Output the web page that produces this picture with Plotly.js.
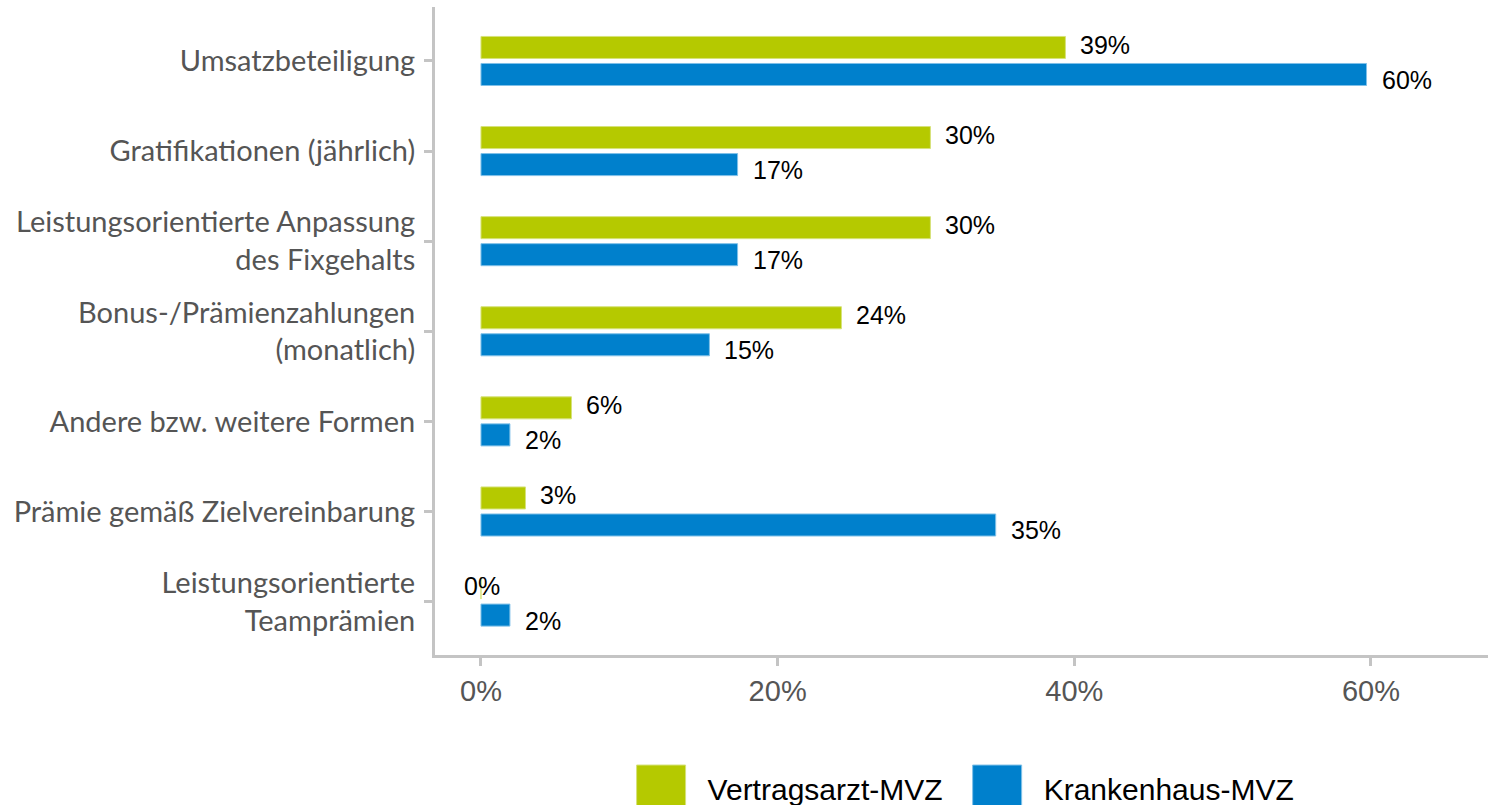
<!DOCTYPE html>
<html>
<head>
<meta charset="utf-8">
<script src="https://cdn.plot.ly/plotly-3.0.1.min.js"></script>
<style>
  html, body { margin: 0; padding: 0; background: #ffffff; }
  #chart { width: 1492px; height: 805px; }
</style>
</head>
<body>
<div id="chart"></div>
<script>
// ---- data ----
const categories = [
  'Umsatzbeteiligung',
  'Gratifikationen (jährlich)',
  'Leistungsorientierte Anpassung<br>des Fixgehalts',
  'Bonus-/Prämienzahlungen<br>(monatlich)',
  'Andere bzw. weitere Formen',
  'Prämie gemäß Zielvereinbarung',
  'Leistungsorientierte<br>Teamprämien'
];
const seriesNames = ['Vertragsarzt-MVZ', 'Krankenhaus-MVZ'];
const vertragsarzt = [39.4, 30.3, 30.3, 24.3, 6.1, 3.0, 0];
const krankenhaus = [59.7, 17.3, 17.3, 15.4, 1.95, 34.7, 1.95];
const xTickVals = [0, 20, 40, 60];
const xTickText = ['0%', '20%', '40%', '60%'];

// ---- styles ----
const GREEN = '#b5c900';
const BLUE = '#0080cc';
const AXIS = '#c4c4c4';
const labelFont = "'Liberation Sans', Arial, sans-serif";

const traces = [
  {
    type: 'bar', orientation: 'h', name: seriesNames[0],
    y: categories, x: vertragsarzt,
    marker: { color: GREEN, line: { color: '#d6e27a', width: 1 } },
    hoverinfo: 'none'
  },
  {
    type: 'bar', orientation: 'h', name: seriesNames[1],
    y: categories, x: krankenhaus,
    marker: { color: BLUE, line: { color: '#7fc0e8', width: 1 } },
    hoverinfo: 'none'
  }
];

const annotations = [];
[vertragsarzt, krankenhaus].forEach((vals, s) => {
  vals.forEach((v, i) => {
    annotations.push({
      x: v, y: categories[i], xref: 'x', yref: 'y',
      text: Math.round(v) + '%',
      showarrow: false,
      xanchor: v === 0 ? 'center' : 'left',
      xshift: v === 0 ? 1 : 13,
      yshift: s === 0 ? 16 : -19,
      font: { family: labelFont, size: 25, color: '#000000' }
    });
  });
});

const layout = {
  width: 1492, height: 805,
  margin: { l: 435, r: 4, t: 7, b: 150, autoexpand: false },
  paper_bgcolor: '#ffffff', plot_bgcolor: '#ffffff',
  barmode: 'group', bargap: 0.4, bargroupgap: 0.185,
  showlegend: true,
  legend: {
    orientation: 'h', x: 0.1677, xanchor: 'left', y: -0.205, yanchor: 'middle',
    font: { family: labelFont, size: 30, color: '#000000' },
    itemwidth: 86, itemclick: false, itemdoubleclick: false,
    traceorder: 'normal'
  },
  xaxis: {
    range: [-3.10, 67.89], tickmode: 'array', tickvals: xTickVals, ticktext: xTickText,
    showgrid: false, zeroline: false,
    showline: true, linecolor: AXIS, linewidth: 3,
    ticks: 'outside', ticklen: 8, tickwidth: 3, tickcolor: AXIS,
    tickfont: { family: labelFont, size: 29, color: '#555555' }
  },
  yaxis: {
    type: 'category', categoryorder: 'array', categoryarray: categories,
    range: [6.593, -0.599],
    showgrid: false, zeroline: false,
    showline: true, linecolor: AXIS, linewidth: 3,
    ticks: 'outside', ticklen: 8, tickwidth: 3, tickcolor: AXIS,
    ticklabelstandoff: 3,
    tickfont: { family: "Lato, 'Open Sans', sans-serif", size: 29, color: '#555555' }
  },
  annotations: annotations
};

function fixLegend() {
  document.querySelectorAll('.legend [clip-path]').forEach(e => e.removeAttribute('clip-path'));
  document.querySelectorAll('.legend .traces').forEach(g => {
    const path = g.querySelector('.legendpoints path');
    const text = g.querySelector('text.legendtext');
    if (!path || !text) return;
    path.removeAttribute('transform');
    const tr = text.getBoundingClientRect();
    const pr = path.getBoundingClientRect();
    const b = path.getBBox();
    const cx = b.x + b.width / 2, cy = b.y + b.height / 2;
    const sx = 49 / b.width, sy = 48 / b.height;
    const dx = (tr.left - 22 - 24.5) - (pr.left + pr.width / 2);
    const dy = (tr.top + tr.height / 2) - (pr.top + pr.height / 2);
    path.setAttribute('transform',
      'translate(' + (cx + dx) + ',' + (cy + dy) + ') scale(' + sx + ',' + sy + ') translate(' + (-cx) + ',' + (-cy) + ')');
    path.style.strokeWidth = (1 / sx) + 'px';
  });
}

Plotly.newPlot('chart', traces, layout, { displayModeBar: false, staticPlot: true }).then(fixLegend);
</script>
</body>
</html>
